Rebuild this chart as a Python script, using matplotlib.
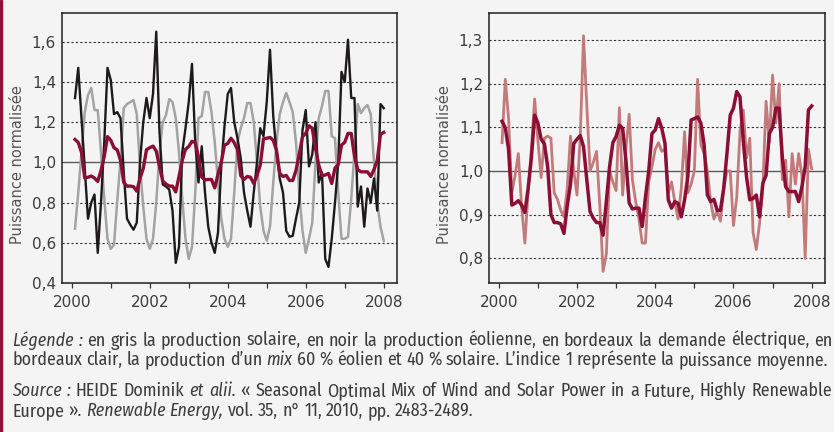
import numpy as np
import matplotlib
matplotlib.use('Agg')
from matplotlib import pyplot as plt
from matplotlib import font_manager
from matplotlib.patches import Rectangle

# séries mensuelles, janvier 2000 -> décembre 2007 (indice 1 = puissance moyenne)
solaire = [
    0.67, 0.85, 1.05, 1.25, 1.335, 1.37, 1.26, 1.26, 1.05, 0.82, 0.62, 0.57,
    0.59, 0.81, 1.01, 1.27, 1.29, 1.30, 1.31, 1.24, 0.98, 0.78, 0.62, 0.57,
    0.62, 0.80, 1.05, 1.20, 1.235, 1.315, 1.30, 1.22, 1.05, 0.82, 0.62, 0.52,
    0.58, 0.85, 1.22, 1.23, 1.35, 1.35, 1.25, 1.10, 0.90, 0.72, 0.62, 0.58,
    0.62, 0.85, 1.10, 1.17, 1.22, 1.295, 1.295, 1.20, 1.00, 0.78, 0.66, 0.61,
    0.68, 0.90, 1.10, 1.24, 1.30, 1.345, 1.30, 1.25, 1.10, 0.85, 0.66, 0.55,
    0.62, 0.70, 1.00, 1.22, 1.28, 1.355, 1.355, 1.13, 1.12, 0.85, 0.62, 0.62,
    0.63, 0.82, 1.05, 1.29, 1.245, 1.27, 1.285, 1.24, 1.00, 0.80, 0.68, 0.61,
]
eolien = [
    1.32, 1.47, 1.22, 0.97, 0.72, 0.80, 0.84, 0.55, 0.80, 1.10, 1.47, 1.41,
    1.24, 1.25, 1.22, 0.95, 0.72, 0.69, 0.665, 0.70, 1.00, 1.20, 1.32, 1.22,
    1.34, 1.65, 1.15, 0.89, 0.88, 0.865, 0.76, 0.50, 0.58, 1.05, 1.17, 1.30,
    1.49, 1.10, 0.90, 1.08, 0.85, 0.68, 0.60, 0.55, 0.65, 0.98, 1.18, 1.34,
    1.37, 1.20, 1.12, 1.02, 0.85, 0.76, 0.68, 0.85, 1.00, 1.17, 1.13, 1.30,
    1.56, 1.23, 1.05, 0.92, 0.85, 0.66, 0.63, 0.635, 0.72, 0.80, 1.16, 1.26,
    0.98, 1.04, 1.20, 0.90, 0.95, 0.52, 0.48, 0.62, 0.80, 1.00, 1.45, 1.40,
    1.61, 1.32, 1.32, 0.78, 0.88, 0.68, 0.87, 0.80, 0.92, 0.76, 1.29, 1.27,
]
demande = [
    1.114, 1.099, 1.05, 0.922, 0.926, 0.932, 0.922, 0.905, 0.96, 1.03, 1.128, 1.11,
    1.073, 1.062, 1.01, 0.90, 0.882, 0.882, 0.879, 0.857, 0.92, 0.97, 1.063, 1.073,
    1.081, 1.056, 0.98, 0.907, 0.892, 0.882, 0.882, 0.853, 0.93, 1.01, 1.065, 1.079,
    1.105, 1.098, 1.025, 0.927, 0.913, 0.915, 0.915, 0.873, 0.94, 1.00, 1.086, 1.094,
    1.12, 1.098, 1.063, 0.934, 0.915, 0.93, 0.926, 0.895, 0.934, 0.987, 1.117, 1.12,
    1.124, 1.11, 1.06, 0.945, 0.93, 0.935, 0.91, 0.91, 0.96, 1.04, 1.128, 1.144,
    1.182, 1.17, 1.07, 0.987, 0.934, 0.937, 0.945, 0.895, 0.972, 0.99, 1.086, 1.10,
    1.144, 1.144, 1.03, 0.964, 0.953, 0.953, 0.953, 0.93, 0.964, 1.01, 1.14, 1.149,
]
mix = [
    1.065, 1.21, 1.12, 0.95, 0.99, 1.04, 0.92, 0.835, 0.95, 1.05, 1.165, 1.07,
    0.985, 1.075, 1.08, 1.075, 0.95, 0.935, 0.91, 0.895, 0.96, 1.08, 1.00, 0.945,
    1.08, 1.31, 1.15, 1.00, 1.02, 1.045, 0.92, 0.77, 0.81, 1.00, 0.975, 0.955,
    1.145, 0.945, 1.05, 1.13, 0.98, 0.93, 0.89, 0.835, 0.835, 0.975, 1.01, 1.05,
    1.065, 1.045, 1.05, 0.95, 0.975, 0.93, 0.89, 0.96, 1.09, 0.95, 0.97, 1.00,
    1.21, 1.06, 1.04, 1.00, 0.93, 0.89, 0.91, 0.885, 0.96, 1.00, 1.00, 0.875,
    0.94, 1.09, 1.14, 1.03, 1.075, 0.86, 0.82, 0.88, 0.96, 1.16, 1.065, 1.22,
    1.11, 1.20, 0.98, 1.025, 0.895, 1.04, 0.97, 1.04, 0.99, 0.80, 1.05, 1.005,
]
annees = list(range(2000, 2009))
etiquettes_x = ['2000', '', '2002', '', '2004', '', '2006', '', '2008']
ticks_gauche = [0.4, 0.6, 0.8, 1.0, 1.2, 1.4, 1.6]
ticks_droite = [0.8, 0.9, 1.0, 1.1, 1.2, 1.3]

x = 2000 + (np.arange(len(demande)) + 1) / 12

W, H = 834, 432
fond = '#f4f4f4'
texte = '#3c3c3c'

fig = plt.figure(figsize=(W / 100, H / 100), dpi=100, facecolor=fond)
fig.patches.append(Rectangle((0, 0), 2 / W, 1, transform=fig.transFigure,
                             color='#8b1538', zorder=10))

ax1 = fig.add_axes([62 / W, 1 - 283 / H, 335 / W, 270 / H])
ax2 = fig.add_axes([489 / W, 1 - 283 / H, 336 / W, 270 / H])


def habiller(ax, ticks, ylim):
    ax.set_facecolor(fond)
    ax.set_xlim(1999.75, 2008.34)
    ax.set_ylim(*ylim)
    for s in ax.spines.values():
        s.set_color('#1e1e1e')
        s.set_linewidth(1.1)
    for t in ticks:
        if t == 1.0:
            ax.axhline(t, color='#5a5a5a', lw=1.0, zorder=1)
        elif t > ylim[0] + 1e-6:
            ax.axhline(t, color='#333333', lw=0.8, ls=(0, (2, 2)), zorder=1)
    ax.set_yticks(ticks)
    ax.set_yticklabels(['{:.1f}'.format(t).replace('.', ',') for t in ticks])
    ax.set_xticks(annees)
    ax.set_xticklabels(etiquettes_x)
    ax.tick_params(axis='y', length=0, pad=4.3, labelsize=11, labelcolor=texte)
    ax.tick_params(axis='x', length=3.6, width=0.9, color='#333333', pad=5,
                   labelsize=11, labelcolor=texte)
    ax.set_ylabel('Puissance normalisée', fontsize=10.5, color='#555555', va='center')
    ax.yaxis.set_label_coords(-0.133, 0.44)


habiller(ax1, ticks_gauche, (0.4, 1.743))
habiller(ax2, ticks_droite, (0.7435, 1.362))

ax1.plot(x, solaire, color='#a3a3a3', lw=1.8, zorder=3)
ax1.plot(x, eolien, color='#1c1a1b', lw=1.7, zorder=4)
ax1.plot(x, demande, color='#8b0f35', lw=2.4, zorder=5)

ax2.plot(x, mix, color='#c27a7a', lw=2.0, zorder=3)
ax2.plot(x, demande, color='#8b0f35', lw=2.5, zorder=4)

# légende sous les graphiques : police étroite si disponible
noms = {f.name for f in font_manager.fontManager.ttflist}
police = dict(family='DejaVu Sans')
for nom in ['Fira Sans Condensed', 'Roboto Condensed', 'Asap Condensed',
            'Archivo Narrow', 'Open Sans Condensed', 'Liberation Sans Narrow']:
    if nom in noms:
        police = dict(family=nom)
        break

# (ligne y en px, morceaux (texte, italique), justifiée, fin visée en px)
lignes = [
    (345.5, [('Légende :', True), (' en gris la production solaire, en noir la production éolienne, '
                                   'en bordeaux la demande électrique, en', False)], True, 832),
    (365.0, [('bordeaux clair, la production d’un ', False), ('mix', True),
             (' 60 % éolien et 40 % solaire. L’indice 1 représente la puissance moyenne.', False)],
     False, 830),
    (396.5, [('Source :', True), (' HEIDE Dominik ', False), ('et alii.', True),
             (' « Seasonal Optimal Mix of Wind and Solar Power in a Future, Highly Renewable', False)],
     True, 832),
    (416.0, [('Europe ». ', False), ('Renewable Energy,', True),
             (' vol. 35, n° 11, 2010, pp. 2483-2489.', False)], False, None),
]
x0 = 12.0
renderer = fig.canvas.get_renderer()


def largeur(s, taille, italique):
    t = fig.text(0, 0, s, fontsize=taille, style='italic' if italique else 'normal', **police)
    w = t.get_window_extent(renderer).width
    t.remove()
    return w


def mots(morceaux):
    # découpe en mots : (mot, italique, espace avant)
    res = []
    esp = False
    for s, it in morceaux:
        for i, m in enumerate(s.split(' ')):
            if i > 0:
                esp = True
            if m:
                res.append((m, it, esp and bool(res)))
                esp = False
    return res


def mesurer(morceaux, taille):
    esp = largeur('n n', taille, False) - largeur('nn', taille, False)
    toks = mots(morceaux)
    larg = [largeur(m, taille, it) for m, it, _ in toks]
    n_esp = sum(1 for t in toks if t[2])
    return esp, toks, larg, sum(larg) + esp * n_esp, n_esp


t0 = 12.0
taille = min(t0 * (fin - x0) / mesurer(m, t0)[3] for _, m, _, fin in lignes if fin)

for y, morceaux, justif, fin in lignes:
    esp, toks, larg, total, n_esp = mesurer(morceaux, taille)
    if justif and n_esp:
        esp += (fin - x0 - total) / n_esp
    xp = x0
    for (m, it, avant), w in zip(toks, larg):
        if avant:
            xp += esp
        fig.text(xp / W, 1 - y / H, m, fontsize=taille, color=texte, va='baseline',
                 style='italic' if it else 'normal', **police)
        xp += w

fig.savefig('out.png', dpi=100, facecolor=fond)
